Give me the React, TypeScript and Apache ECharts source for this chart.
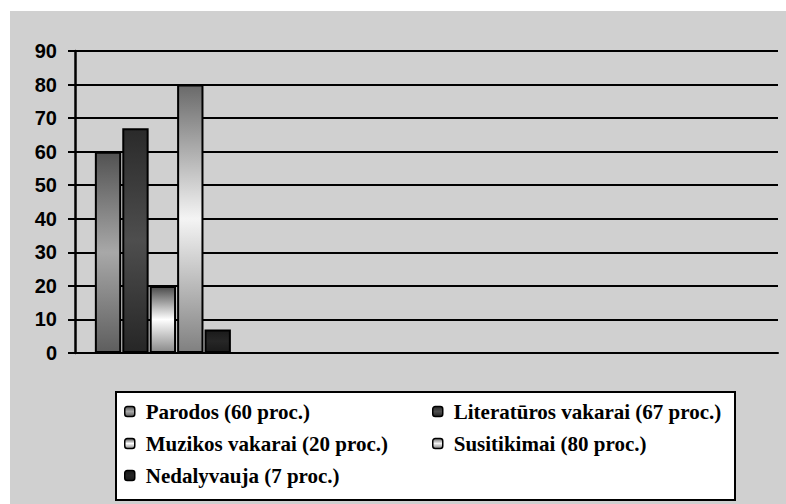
import React, { useEffect, useRef } from "react";
import * as echarts from "echarts";

const categories = ["", "", "", ""];
const seriesNames = [
  "Parodos (60 proc.)",
  "Literatūros vakarai (67 proc.)",
  "Muzikos vakarai (20 proc.)",
  "Susitikimai (80 proc.)",
  "Nedalyvauja (7 proc.)",
];
const seriesValues = [60, 67, 20, 80, 7];
const gradientStops = [
  ["#525252", "#a8a8a8", "#5e5e5e"],
  ["#2a2a2a", "#4e4e4e", "#262626"],
  ["#4a4a4a", "#ffffff", "#8a8a8a"],
  ["#6a6a6a", "#f4f4f4", "#808080"],
  ["#1a1a1a", "#262626", "#1a1a1a"],
];
const yTicks = { min: 0, max: 90, interval: 10 };
const legendCol1 = [seriesNames[0], seriesNames[2], seriesNames[4]];
const legendCol2 = [seriesNames[1], seriesNames[3]];

export default function App() {
  const ref = useRef<HTMLDivElement>(null);
  useEffect(() => {
    if (!ref.current) return;
    const chart = echarts.init(ref.current, null, { renderer: "svg" });
    const legendText = {
      fontFamily: "Liberation Serif",
      fontWeight: "bold",
      fontSize: 21,
      color: "#000",
      padding: [0, 0, 0, 6],
    };
    chart.setOption({
      animation: false,
      backgroundColor: "#ffffff",
      graphic: [
        {
          type: "rect",
          z: -10,
          shape: { x: 10, y: 11, width: 776, height: 493 },
          style: { fill: "#d0d0d0" },
        },
        {
          type: "rect",
          z: -5,
          shape: { x: 116, y: 392, width: 619, height: 108 },
          style: { fill: "#ffffff", stroke: "#000", lineWidth: 2 },
        },
      ],
      grid: { left: 75, right: 8, top: 51, bottom: 151 },
      xAxis: {
        type: "category",
        data: categories,
        axisLine: { show: true, lineStyle: { color: "#000", width: 2 } },
        axisTick: { show: false },
        axisLabel: { show: false },
      },
      yAxis: {
        type: "value",
        min: yTicks.min,
        max: yTicks.max,
        interval: yTicks.interval,
        axisLine: { show: true, lineStyle: { color: "#000", width: 2.5 } },
        axisTick: { show: true, length: 7, lineStyle: { color: "#000", width: 2 } },
        splitLine: { show: true, lineStyle: { color: "#000", width: 2 } },
        axisLabel: {
          margin: 18,
          fontFamily: "Liberation Sans",
          fontWeight: "bold",
          fontSize: 20,
          color: "#000",
        },
      },
      legend: [
        {
          data: legendCol1,
          orient: "vertical",
          left: 124,
          top: 401,
          padding: 0,
          itemWidth: 10,
          itemHeight: 10,
          itemGap: 11,
          textStyle: legendText,
          itemStyle: { borderWidth: 1.5 },
        },
        {
          data: legendCol2,
          orient: "vertical",
          left: 432,
          top: 401,
          padding: 0,
          itemWidth: 10,
          itemHeight: 10,
          itemGap: 11,
          textStyle: legendText,
          itemStyle: { borderWidth: 1.5 },
        },
      ],
      series: seriesNames.map((name, i) => ({
        name,
        type: "bar",
        data: categories.map((_, ci) => (ci === 0 ? seriesValues[i] : null)),
        barGap: "4%",
        barCategoryGap: "22.6%",
        itemStyle: {
          color: new echarts.graphic.LinearGradient(0, 0, 0, 1, [
            { offset: 0, color: gradientStops[i][0] },
            { offset: 0.5, color: gradientStops[i][1] },
            { offset: 1, color: gradientStops[i][2] },
          ]),
          borderColor: "#000",
          borderWidth: 2,
        },
      })),
    });
    return () => chart.dispose();
  }, []);
  return (
    <div
      ref={ref}
      style={{ position: "absolute", left: 0, top: 0, width: 786, height: 504 }}
    />
  );
}
